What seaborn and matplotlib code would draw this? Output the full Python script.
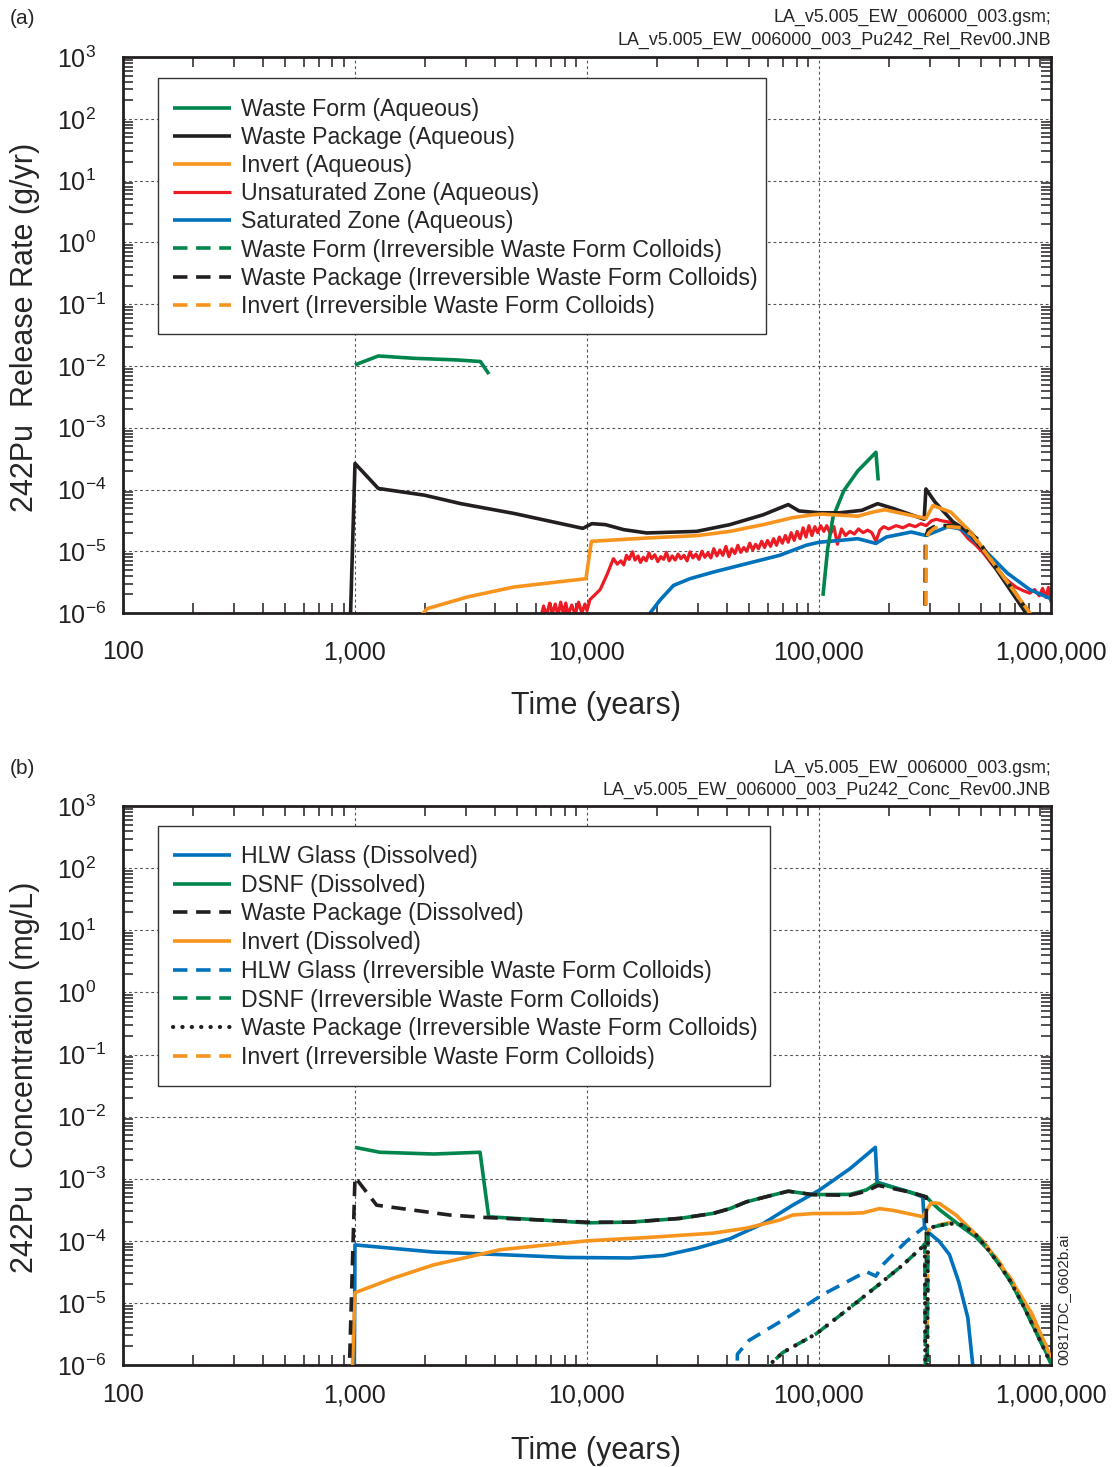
import numpy as np
import matplotlib
matplotlib.use("Agg")
import matplotlib.pyplot as plt
from matplotlib.patches import Rectangle
from matplotlib.ticker import (FixedLocator, FixedFormatter, LogLocator,
                               NullFormatter, LogFormatterSciNotation)
import seaborn as sns

sns.set_theme(style="white")
plt.rcParams["font.family"] = ["Liberation Sans", "DejaVu Sans"]
plt.rcParams["mathtext.fontset"] = "custom"
plt.rcParams["mathtext.rm"] = "Liberation Sans"
plt.rcParams["mathtext.it"] = "Liberation Sans:italic"
plt.rcParams["axes.unicode_minus"] = True

GREEN = "#00864d"
BLACK = "#231f20"
ORANGE = "#f7941d"
RED = "#ed1c24"
BLUE = "#0072bc"

x_ticks = [100, 1000, 10000, 100000, 1000000]
x_tick_labels = ["100", "1,000", "10,000", "100,000", "1,000,000"]

# ---------------- (a) release rates, g/yr ----------------
wf_aq_x1 = [1000, 1260, 1800, 2760, 3470, 3780]
wf_aq_y1 = [1.04e-2, 1.45e-2, 1.33e-2, 1.25e-2, 1.18e-2, 7.4e-3]
wf_aq_x2 = [1.04e5, 1.09e5, 1.15e5, 1.28e5, 1.47e5, 1.76e5, 1.80e5]
wf_aq_y2 = [1.9e-6, 1.1e-5, 3.6e-5, 9.6e-5, 2.0e-4, 4.0e-4, 1.4e-4]

wp_aq_x = [940, 1000, 1260, 1990, 2860, 4840, 9600, 10500, 12000, 14400,
           18100, 29700, 41300, 57500, 73700, 82000, 100000, 123000, 153000,
           179000, 210000, 284000, 289000, 316000, 378000, 440000, 510000,
           610000, 780000, 800000]
wp_aq_y = [1e-7, 2.64e-4, 1.04e-4, 8.1e-5, 5.9e-5, 4.1e-5, 2.35e-5, 2.8e-5,
           2.7e-5, 2.24e-5, 1.98e-5, 2.1e-5, 2.7e-5, 3.9e-5, 5.7e-5, 4.5e-5,
           4.2e-5, 4.2e-5, 4.6e-5, 5.9e-5, 4.9e-5, 3.3e-5, 1.02e-4, 6.3e-5,
           3.0e-5, 2.07e-5, 1.05e-5, 3.9e-6, 1.0e-6, 6e-7]

inv_aq_x = [1920, 2050, 3050, 4840, 9900, 10450, 18100, 29700, 41300, 57500,
            77000, 94000, 103000, 147000, 170000, 192000, 289000, 310000,
            370000, 460000, 565000, 670000, 810000, 830000]
inv_aq_y = [9e-7, 1.18e-6, 1.82e-6, 2.64e-6, 3.6e-6, 1.45e-5, 1.64e-5,
            1.79e-5, 2.1e-5, 2.7e-5, 3.5e-5, 3.9e-5, 4.0e-5, 3.7e-5, 4.3e-5,
            4.7e-5, 3.4e-5, 5.5e-5, 4.3e-5, 1.9e-5, 6.4e-6, 2.7e-6, 1.0e-6,
            7e-7]

uz_aq_x = [6300, 6500, 6700, 6900, 7100, 7300, 7500, 7700, 7900, 8100, 8300,
           8600, 8900, 9200, 9500, 9800, 10000, 10300, 11400, 12200, 13000,
           13500, 14000, 14400, 14800, 15200, 15700, 16100, 16600, 17000,
           17500, 18000, 18500, 19000, 19600, 20200, 20800, 21400, 22000,
           22600, 23300, 24000, 24700, 25400, 26200, 27000, 27800, 28600,
           29500, 30400, 31300, 32200, 33200, 34200, 35200, 36300, 37400,
           38500, 39700, 40900, 42100, 43400, 44700, 46000, 47400, 48800,
           50300, 51800, 53300, 54900, 56600, 58300, 60000, 61800, 63700,
           65600, 67500, 69500, 71600, 73700, 75900, 78200, 80500, 82900,
           85400, 87900, 90500, 93200, 96000, 98800, 101700, 105000, 108000,
           112000, 116000, 120000, 125000, 130000, 136000, 142000, 148000,
           155000, 162000, 169000, 176000, 183000, 190000, 200000, 215000,
           230000, 245000, 260000, 275000, 290000, 305000, 320000, 340000,
           360000, 385000, 410000, 440000, 470000, 510000, 560000, 610000,
           660000, 710000, 760000, 810000, 850000, 890000, 920000, 950000,
           975000, 1000000]
uz_aq_y = [8e-7, 1.3e-6, 9e-7, 1.45e-6, 1.0e-6, 1.4e-6, 9e-7, 1.5e-6, 1.0e-6,
           1.45e-6, 9.5e-7, 1.35e-6, 9.5e-7, 1.5e-6, 1.0e-6, 1.4e-6, 1.1e-6,
           1.65e-6, 2.4e-6, 4.2e-6, 7.6e-6, 6.2e-6, 7.0e-6, 6.0e-6, 8.6e-6,
           7.4e-6, 9.8e-6, 7.2e-6, 8.4e-6, 6.6e-6, 8.0e-6, 7.0e-6, 9.4e-6,
           7.6e-6, 8.8e-6, 6.8e-6, 8.2e-6, 7.4e-6, 9.6e-6, 7.0e-6, 8.4e-6,
           7.2e-6, 9.0e-6, 7.6e-6, 8.6e-6, 7.0e-6, 9.8e-6, 7.8e-6, 9.0e-6,
           7.4e-6, 1.0e-5, 8.0e-6, 9.4e-6, 7.8e-6, 1.1e-5, 8.4e-6, 1.05e-5,
           8.6e-6, 1.2e-5, 8.2e-6, 1.1e-5, 9.2e-6, 1.25e-5, 9.6e-6, 1.15e-5,
           1.0e-5, 1.35e-5, 1.05e-5, 1.3e-5, 1.1e-5, 1.45e-5, 1.15e-5, 1.5e-5,
           1.2e-5, 1.6e-5, 1.25e-5, 1.7e-5, 1.35e-5, 1.8e-5, 1.4e-5, 2.0e-5,
           1.5e-5, 2.1e-5, 1.6e-5, 2.4e-5, 1.7e-5, 2.6e-5, 1.8e-5, 2.5e-5,
           2.0e-5, 2.6e-5, 2.1e-5, 2.6e-5, 1.9e-5, 2.5e-5, 1.3e-5, 2.3e-5,
           1.8e-5, 2.1e-5, 1.9e-5, 2.3e-5, 2.0e-5, 2.2e-5, 2.0e-5, 1.45e-5,
           2.2e-5, 2.5e-5, 2.3e-5, 2.6e-5, 2.4e-5, 2.7e-5, 2.5e-5, 2.8e-5,
           2.6e-5, 3.1e-5, 3.3e-5, 3.1e-5, 3.0e-5, 2.6e-5, 2.2e-5, 1.6e-5,
           1.3e-5, 9.5e-6, 6.0e-6, 4.2e-6, 3.2e-6, 2.6e-6, 2.3e-6, 2.1e-6,
           2.4e-6, 1.9e-6, 2.5e-6, 1.8e-6, 2.6e-6, 1.5e-6]

sz_aq_x = [18200, 18700, 20700, 23600, 27800, 35000, 48700, 67700, 88000,
           100000, 123000, 147000, 176000, 195000, 250000, 289000, 360000,
           410000, 510000, 650000, 810000, 1000000]
sz_aq_y = [7e-7, 1.0e-6, 1.64e-6, 2.8e-6, 3.6e-6, 4.6e-6, 6.3e-6, 8.6e-6,
           1.25e-5, 1.4e-5, 1.5e-5, 1.6e-5, 1.34e-5, 1.7e-5, 2.05e-5, 1.8e-5,
           2.5e-5, 2.3e-5, 1.1e-5, 4.4e-6, 2.4e-6, 1.7e-6]

wf_col_x = [2.86e5, 2.88e5, 2.95e5, 3.2e5, 3.7e5, 4.2e5, 4.8e5, 5.7e5, 6.8e5,
            8.0e5, 8.2e5]
wf_col_y = [1e-7, 1.6e-5, 2.2e-5, 2.6e-5, 2.6e-5, 2.3e-5, 1.6e-5, 6.0e-6,
            2.5e-6, 1.0e-6, 7e-7]
wp_col_x = [2.86e5, 2.88e5, 2.95e5, 3.2e5, 3.7e5, 4.2e5, 4.8e5, 5.7e5, 6.8e5,
            8.0e5, 8.2e5]
wp_col_y = [1e-7, 1.6e-5, 2.2e-5, 2.6e-5, 2.6e-5, 2.3e-5, 1.6e-5, 6.0e-6,
            2.5e-6, 1.0e-6, 7e-7]
inv_col_x = [2.88e5, 2.90e5, 2.95e5, 3.0e5, 3.16e5, 3.7e5, 4.1e5, 4.6e5,
             5.65e5, 6.7e5, 8.1e5, 8.3e5]
inv_col_y = [1e-7, 1.5e-5, 1.9e-5, 2.05e-5, 2.4e-5, 2.5e-5, 2.4e-5, 1.8e-5,
             6.4e-6, 2.7e-6, 1.0e-6, 7e-7]

# ---------------- (b) concentrations, mg/L ----------------
hlw_d_x = [990, 1000, 2180, 4230, 8200, 15400, 21400, 29700, 41300, 57500,
           77000, 100000, 136000, 175000, 178000, 246000, 280000, 285000,
           294000, 330000, 365000, 400000, 438000, 460000, 465000]
hlw_d_y = [1e-7, 8.6e-5, 6.6e-5, 6.0e-5, 5.4e-5, 5.3e-5, 5.8e-5, 7.6e-5,
           1.08e-4, 1.9e-4, 3.75e-4, 6.5e-4, 1.45e-3, 3.2e-3, 8.8e-4, 6.1e-4,
           5.1e-4, 1.7e-4, 1.4e-4, 9.8e-5, 6.0e-5, 2.2e-5, 5.8e-6, 1.0e-6,
           5e-7]

dsnf_d_x = [1000, 1280, 2180, 3460, 3770, 10000, 15400, 25200, 35000, 41300,
            48700, 60000, 73700, 94000, 136000, 160000, 178000, 246000,
            290000, 305000, 330000, 370000, 420000, 475000, 540000, 600000,
            670000, 755000, 850000, 1000000]
dsnf_d_y = [3.2e-3, 2.67e-3, 2.5e-3, 2.67e-3, 2.44e-4, 1.95e-4, 2.0e-4,
            2.3e-4, 2.77e-4, 3.3e-4, 4.25e-4, 5.2e-4, 6.3e-4, 5.55e-4, 5.6e-4,
            6.6e-4, 8.5e-4, 6.1e-4, 5.1e-4, 4.2e-4, 3.2e-4, 2.3e-4, 1.6e-4,
            1.15e-4, 7.0e-5, 4.1e-5, 2.2e-5, 9.5e-6, 3.8e-6, 1.1e-6]

wp_d_x = [930, 1000, 1240, 2570, 3700, 10000, 15400, 25200, 35000, 41300,
          48700, 60000, 73700, 94000, 136000, 160000, 180000, 246000, 290000,
          292000]
wp_d_y = [1e-7, 1.06e-3, 3.75e-4, 2.6e-4, 2.37e-4, 2.0e-4, 2.0e-4, 2.3e-4,
          2.77e-4, 3.3e-4, 4.25e-4, 5.2e-4, 6.3e-4, 5.55e-4, 5.4e-4, 6.3e-4,
          7.8e-4, 6.1e-4, 5.1e-4, 1e-7]

inv_d_x = [955, 1000, 1460, 2180, 4230, 10000, 18100, 35000, 48700, 67700,
           77000, 94000, 136000, 155000, 182000, 208000, 280000, 305000,
           330000, 390000, 445000, 510000, 600000, 706000, 830000, 1000000]
inv_d_y = [1e-7, 1.46e-5, 2.5e-5, 4.1e-5, 7.2e-5, 1.0e-4, 1.13e-4, 1.33e-4,
           1.6e-4, 2.16e-4, 2.6e-4, 2.75e-4, 2.77e-4, 2.83e-4, 3.3e-4, 3.1e-4,
           2.45e-4, 4.1e-4, 4.0e-4, 2.6e-4, 1.6e-4, 9.8e-5, 4.4e-5, 1.76e-5,
           6.6e-6, 1.3e-6]

hlw_col_x = [44300, 44500, 50000, 75000, 104000, 160000, 176000, 188000,
             238000, 280000, 285000]
hlw_col_y = [5e-7, 1.5e-6, 2.5e-6, 6.2e-6, 1.37e-5, 3.2e-5, 2.7e-5, 4.1e-5,
             9.8e-5, 1.6e-4, 1.65e-4]

dsnf_col_x = [55000, 70000, 97500, 136000, 182000, 230000, 280000, 286000,
              288000, 292000, 295000, 305000, 365000, 416000, 475000, 540000,
              600000, 670000, 755000, 850000, 1000000]
dsnf_col_y = [7e-7, 1.6e-6, 3.2e-6, 8.4e-6, 2.0e-5, 4.1e-5, 8.1e-5, 9.0e-5,
              1e-7, 1e-7, 1.4e-4, 1.65e-4, 1.9e-4, 1.8e-4, 1.25e-4, 7.0e-5,
              4.1e-5, 2.2e-5, 9.5e-6, 3.8e-6, 1.05e-6]
wp_col_b_x = dsnf_col_x
wp_col_b_y = dsnf_col_y

inv_col_b_x = [2.90e5, 2.95e5, 3.05e5, 3.65e5, 4.16e5, 4.75e5, 5.4e5, 6.0e5,
               6.7e5, 7.55e5, 8.5e5, 1.0e6]
inv_col_b_y = [1e-7, 1.4e-4, 1.7e-4, 1.95e-4, 1.85e-4, 1.3e-4, 7.5e-5,
               4.5e-5, 2.5e-5, 1.1e-5, 4.5e-6, 1.5e-6]

LW = 2.6
DASH = (0, (4.0, 2.4))
DOT = (0, (0.05, 2.2))
YLABEL_LEFT_PT = 47.5   # distance from the left spine to the tick-label left edge


def draw(ax, xs, ys, color, ls="-", lw=LW, z=2, label=None):
    sns.lineplot(x=np.asarray(xs, float), y=np.asarray(ys, float), ax=ax,
                 color=color, linestyle=ls, linewidth=lw, estimator=None,
                 sort=False, legend=False, zorder=z)
    line = ax.lines[-1]
    line.set_solid_capstyle("butt")
    if ls == DOT:
        line.set_dash_capstyle("round")
        line.set_linewidth(lw + 0.6)
    else:
        line.set_dash_capstyle("butt")
    if label is not None:
        line.set_label(label)
    return line


def style_axes(ax, ylabel, xpad, xlabelpad):
    ax.set_xscale("log")
    ax.set_yscale("log")
    ax.set_xlim(100, 1e6)
    ax.set_ylim(1e-6, 1e3)
    ax.xaxis.set_major_locator(FixedLocator(x_ticks))
    ax.xaxis.set_major_formatter(FixedFormatter(x_tick_labels))
    ax.xaxis.set_minor_locator(LogLocator(base=10, subs=np.arange(2, 10), numticks=60))
    ax.xaxis.set_minor_formatter(NullFormatter())
    ax.yaxis.set_major_locator(FixedLocator(10.0 ** np.arange(-6, 4)))
    ax.yaxis.set_major_formatter(LogFormatterSciNotation())
    ax.yaxis.set_minor_locator(LogLocator(base=10, subs=np.arange(2, 10), numticks=60))
    ax.yaxis.set_minor_formatter(NullFormatter())
    ax.tick_params(which="major", direction="inout", length=18, width=1.4,
                   labelsize=18, top=False, right=False, colors=BLACK)
    ax.tick_params(axis="x", which="major", pad=xpad)
    ax.tick_params(axis="y", which="major", pad=YLABEL_LEFT_PT - 9)
    ax.tick_params(which="minor", direction="in", length=7, width=1.1,
                   top=True, right=True, bottom=True, left=True, colors=BLACK)
    for t in ax.yaxis.get_major_ticks():
        t.label1.set_horizontalalignment("left")
    ax.grid(True, which="major", color="#555555", linestyle=(0, (2.5, 2.5)),
            linewidth=0.8)
    for sp in ax.spines.values():
        sp.set_linewidth(2.0)
        sp.set_color(BLACK)
    ax.set_xlabel("Time (years)", fontsize=22, labelpad=xlabelpad)
    ax.xaxis.label.set_x(0.5097)
    ax.set_ylabel(ylabel, fontsize=22)
    # right-hand edge of the rotated label sits about 83 px left of the spine
    ax.yaxis.set_label_coords(-83 / 928, 0.514)


def add_legend(ax, handles, box, anchor, spacing):
    x0, y0, x1, y1 = box
    ax.add_patch(Rectangle((x0, y0), x1 - x0, y1 - y0, transform=ax.transAxes,
                           facecolor="white", edgecolor="#333333",
                           linewidth=1.0, zorder=4.5, clip_on=False))
    leg = ax.legend(handles=handles, loc="upper left", bbox_to_anchor=anchor,
                    borderaxespad=0, borderpad=0, fontsize=16.7, frameon=False,
                    handlelength=2.5, handletextpad=0.45,
                    labelspacing=spacing)
    leg.set_zorder(5)
    return leg


fig = plt.figure(figsize=(11.17, 14.67), dpi=100)
ax_a = fig.add_axes([0.1101, 0.5821, 0.8308, 0.3790])
ax_b = fig.add_axes([0.1101, 0.0695, 0.8308, 0.3810])

# ---- (a)
h_wf = draw(ax_a, wf_aq_x1, wf_aq_y1, GREEN, z=3, label="Waste Form (Aqueous)")
draw(ax_a, wf_aq_x2, wf_aq_y2, GREEN, z=3)
h_uz = draw(ax_a, uz_aq_x, uz_aq_y, RED, lw=2.3, z=2, label="Unsaturated Zone (Aqueous)")
h_sz = draw(ax_a, sz_aq_x, sz_aq_y, BLUE, z=2.5, label="Saturated Zone (Aqueous)")
h_wp = draw(ax_a, wp_aq_x, wp_aq_y, BLACK, z=3, label="Waste Package (Aqueous)")
h_inv = draw(ax_a, inv_aq_x, inv_aq_y, ORANGE, z=3.5, label="Invert (Aqueous)")
h_wfc = draw(ax_a, wf_col_x, wf_col_y, GREEN, ls=DASH, z=3.6,
             label="Waste Form (Irreversible Waste Form Colloids)")
h_wpc = draw(ax_a, wp_col_x, wp_col_y, BLACK, ls=DASH, z=3.7,
             label="Waste Package (Irreversible Waste Form Colloids)")
h_invc = draw(ax_a, inv_col_x, inv_col_y, ORANGE, ls=DASH, z=3.8,
              label="Invert (Irreversible Waste Form Colloids)")
style_axes(ax_a, "242Pu  Release Rate (g/yr)", xpad=10.5, xlabelpad=19)
add_legend(ax_a, [h_wf, h_wp, h_inv, h_uz, h_sz, h_wfc, h_wpc, h_invc],
           (0.0377, 0.5018, 0.6929, 0.9622), (0.0539, 0.9263), 0.22)

# ---- (b)
h_hlw = draw(ax_b, hlw_d_x, hlw_d_y, BLUE, z=2.5, label="HLW Glass (Dissolved)")
h_dsnf = draw(ax_b, dsnf_d_x, dsnf_d_y, GREEN, z=2.6, label="DSNF (Dissolved)")
h_wpd = draw(ax_b, wp_d_x, wp_d_y, BLACK, ls=DASH, z=2.8, label="Waste Package (Dissolved)")
h_invd = draw(ax_b, inv_d_x, inv_d_y, ORANGE, z=2.7, label="Invert (Dissolved)")
h_hlwc = draw(ax_b, hlw_col_x, hlw_col_y, BLUE, ls=DASH, z=3,
              label="HLW Glass (Irreversible Waste Form Colloids)")
h_invcb = draw(ax_b, inv_col_b_x, inv_col_b_y, ORANGE, ls=DASH, z=2.9,
               label="Invert (Irreversible Waste Form Colloids)")
h_dsnfc = draw(ax_b, dsnf_col_x, dsnf_col_y, GREEN, ls=DASH, z=3.1,
               label="DSNF (Irreversible Waste Form Colloids)")
h_wpcb = draw(ax_b, wp_col_b_x, wp_col_b_y, BLACK, ls=DOT, lw=2.4, z=3.2,
              label="Waste Package (Irreversible Waste Form Colloids)")
style_axes(ax_b, "242Pu  Concentration (mg/L)", xpad=4, xlabelpad=20.5)
add_legend(ax_b, [h_hlw, h_dsnf, h_wpd, h_invd, h_hlwc, h_dsnfc, h_wpcb, h_invcb],
           (0.0377, 0.4991, 0.6972, 0.9642), (0.0539, 0.9302), 0.245)

# ---- annotations
fig.text(10 / 1117, 1 - 18 / 1467, "(a)", fontsize=15, ha="left", va="center")
fig.text(10 / 1117, 1 - 769 / 1467, "(b)", fontsize=15, ha="left", va="center")
fig.text(1051 / 1117, 1 - 17 / 1467, "LA_v5.005_EW_006000_003.gsm;",
         fontsize=12.9, ha="right", va="center")
fig.text(1051 / 1117, 1 - 40 / 1467, "LA_v5.005_EW_006000_003_Pu242_Rel_Rev00.JNB",
         fontsize=12.9, ha="right", va="center")
fig.text(1051 / 1117, 1 - 768 / 1467, "LA_v5.005_EW_006000_003.gsm;",
         fontsize=12.9, ha="right", va="center")
fig.text(1051 / 1117, 1 - 790 / 1467, "LA_v5.005_EW_006000_003_Pu242_Conc_Rev00.JNB",
         fontsize=12.9, ha="right", va="center")
fig.text(1063 / 1117, 1 - 1365 / 1467, "00817DC_0602b.ai", fontsize=11,
         rotation=90, ha="center", va="bottom")

fig.savefig("out.png", dpi=100)
